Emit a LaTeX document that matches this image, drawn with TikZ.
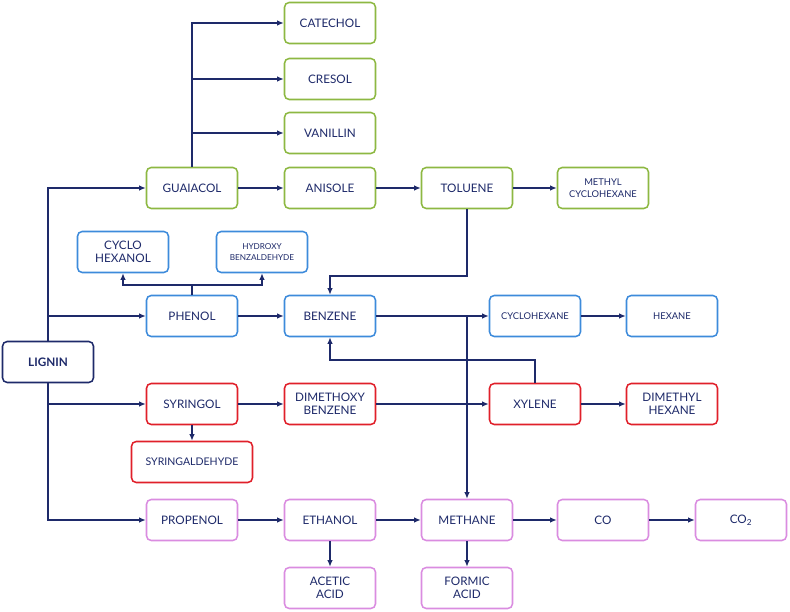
\documentclass[tikz,border=0pt]{standalone}
\usepackage{fontspec}
\setmainfont{Lato}
\usepackage{tikz}
\usetikzlibrary{arrows.meta, positioning, calc}
\definecolor{lgnavy}{HTML}{1E2A6A}
\definecolor{lggreen}{HTML}{8DB842}
\definecolor{lgblue}{HTML}{3D8BDB}
\definecolor{lgred}{HTML}{E0202A}
\definecolor{lgpink}{HTML}{DA8CE0}
\tikzset{
  chem/.style={rounded corners=4pt, line width=1.3pt, fill=white, text=lgnavy,
               minimum width=2.73cm, minimum height=1.23cm, align=center,
               font=\fontsize{10}{11.5}\selectfont},
  guaibox/.style={chem, draw=lggreen},
  phenbox/.style={chem, draw=lgblue},
  syribox/.style={chem, draw=lgred},
  propbox/.style={chem, draw=lgpink},
  tiny/.style={font=\fontsize{8}{10}\selectfont},
  arrow/.style={-{Latex[length=2mm,width=1.7mm]}, line width=1.2pt, draw=lgnavy},
  link/.style={line width=1.2pt, draw=lgnavy}
}
\begin{document}
\begin{tikzpicture}
        \useasboundingbox (0,0) rectangle (23.7,18.36);

        \node[chem, draw=lgnavy, font=\fontsize{10}{11.5}\selectfont\bfseries] (lignin) at (1.44, 7.5) {LIGNIN};

        % guaiacol branch
        \node[guaibox] (catechol) at (9.9, 17.67) {CATECHOL};
        \node[guaibox] (cresol) at (9.9, 15.99) {CRESOL};
        \node[guaibox] (vanillin) at (9.9, 14.37) {VANILLIN};
        \node[guaibox] (guaiacol) at (5.76, 12.72) {GUAIACOL};
        \node[guaibox] (anisole) at (9.9, 12.72) {ANISOLE};
        \node[guaibox] (toluene) at (14.01, 12.72) {TOLUENE};
        \node[guaibox, tiny] (methylch) at (18.09, 12.72) {METHYL\\CYCLOHEXANE};

        % phenol branch
        \node[phenbox] (cyclohexanol) at (3.69, 10.8) {CYCLO\\HEXANOL};
        \node[phenbox, tiny, font=\fontsize{7}{9}\selectfont] (hydroxy) at (7.86, 10.8) {HYDROXY\\BENZALDEHYDE};
        \node[phenbox] (phenol) at (5.76, 8.88) {PHENOL};
        \node[phenbox] (benzene) at (9.9, 8.88) {BENZENE};
        \node[phenbox, tiny] (cyclohexane) at (16.05, 8.88) {CYCLOHEXANE};
        \node[phenbox, tiny] (hexane) at (20.16, 8.88) {HEXANE};

        % syringol branch
        \node[syribox] (syringol) at (5.76, 6.24) {SYRINGOL};
        \node[syribox] (dimethoxy) at (9.9, 6.24) {DIMETHOXY\\BENZENE};
        \node[syribox] (xylene) at (16.05, 6.24) {XYLENE};
        \node[syribox] (dimethylhex) at (20.16, 6.24) {DIMETHYL\\HEXANE};
        \node[syribox, minimum width=3.63cm, font=\fontsize{9}{11}\selectfont] (syringaldehyde) at (5.76, 4.5) {SYRINGALDEHYDE};

        % propenol branch
        \node[propbox] (propenol) at (5.76, 2.76) {PROPENOL};
        \node[propbox] (ethanol) at (9.9, 2.76) {ETHANOL};
        \node[propbox] (methane) at (14.01, 2.76) {METHANE};
        \node[propbox] (co) at (18.09, 2.76) {CO};
        \node[propbox] (cotwo) at (22.23, 2.76) {CO\textsubscript{2}};
        \node[propbox] (acetic) at (9.9, 0.72) {ACETIC\\ACID};
        \node[propbox] (formic) at (14.01, 0.72) {FORMIC\\ACID};

        \coordinate (tolturn) at (14.01, 10.08);
        \coordinate (phenfork) at (5.76, 9.81);
        \coordinate (xylturn) at (16.05, 7.56);
        \coordinate (benzsplit) at (benzene.east -| methane.north);

        \draw[arrow] (lignin.north) |- (guaiacol.west);
        \draw[arrow] (lignin.north) |- (phenol.west);
        \draw[arrow] (lignin.south) |- (syringol.west);
        \draw[arrow] (lignin.south) |- (propenol.west);

        \draw[arrow] (guaiacol.north) |- (catechol.west);
        \draw[arrow] (guaiacol.north) |- (cresol.west);
        \draw[arrow] (guaiacol.north) |- (vanillin.west);
        \draw[arrow] (guaiacol) -- (anisole);
        \draw[arrow] (anisole) -- (toluene);
        \draw[arrow] (toluene) -- (methylch);
        \draw[arrow] (toluene.south) -- (tolturn) -| (benzene.north);

        \draw[link] (phenol.north) -- (phenfork);
        \draw[arrow] (phenfork) -| (cyclohexanol.south);
        \draw[arrow] (phenfork) -| (hydroxy.south);
        \draw[arrow] (phenol) -- (benzene);
        \draw[arrow] (benzene) -- (cyclohexane);
        \draw[arrow] (cyclohexane) -- (hexane);
        \draw[arrow] (benzsplit) -- (methane.north);

        \draw[arrow] (syringol) -- (dimethoxy);
        \draw[arrow] (dimethoxy) -- (xylene);
        \draw[arrow] (xylene) -- (dimethylhex);
        \draw[arrow] (syringol) -- (syringaldehyde);
        \draw[arrow] (xylene.north) -- (xylturn) -| (benzene.south);

        \draw[arrow] (propenol) -- (ethanol);
        \draw[arrow] (ethanol) -- (methane);
        \draw[arrow] (methane) -- (co);
        \draw[arrow] (co) -- (cotwo);
        \draw[arrow] (ethanol) -- (acetic);
        \draw[arrow] (methane) -- (formic);
      \end{tikzpicture}
\end{document}
